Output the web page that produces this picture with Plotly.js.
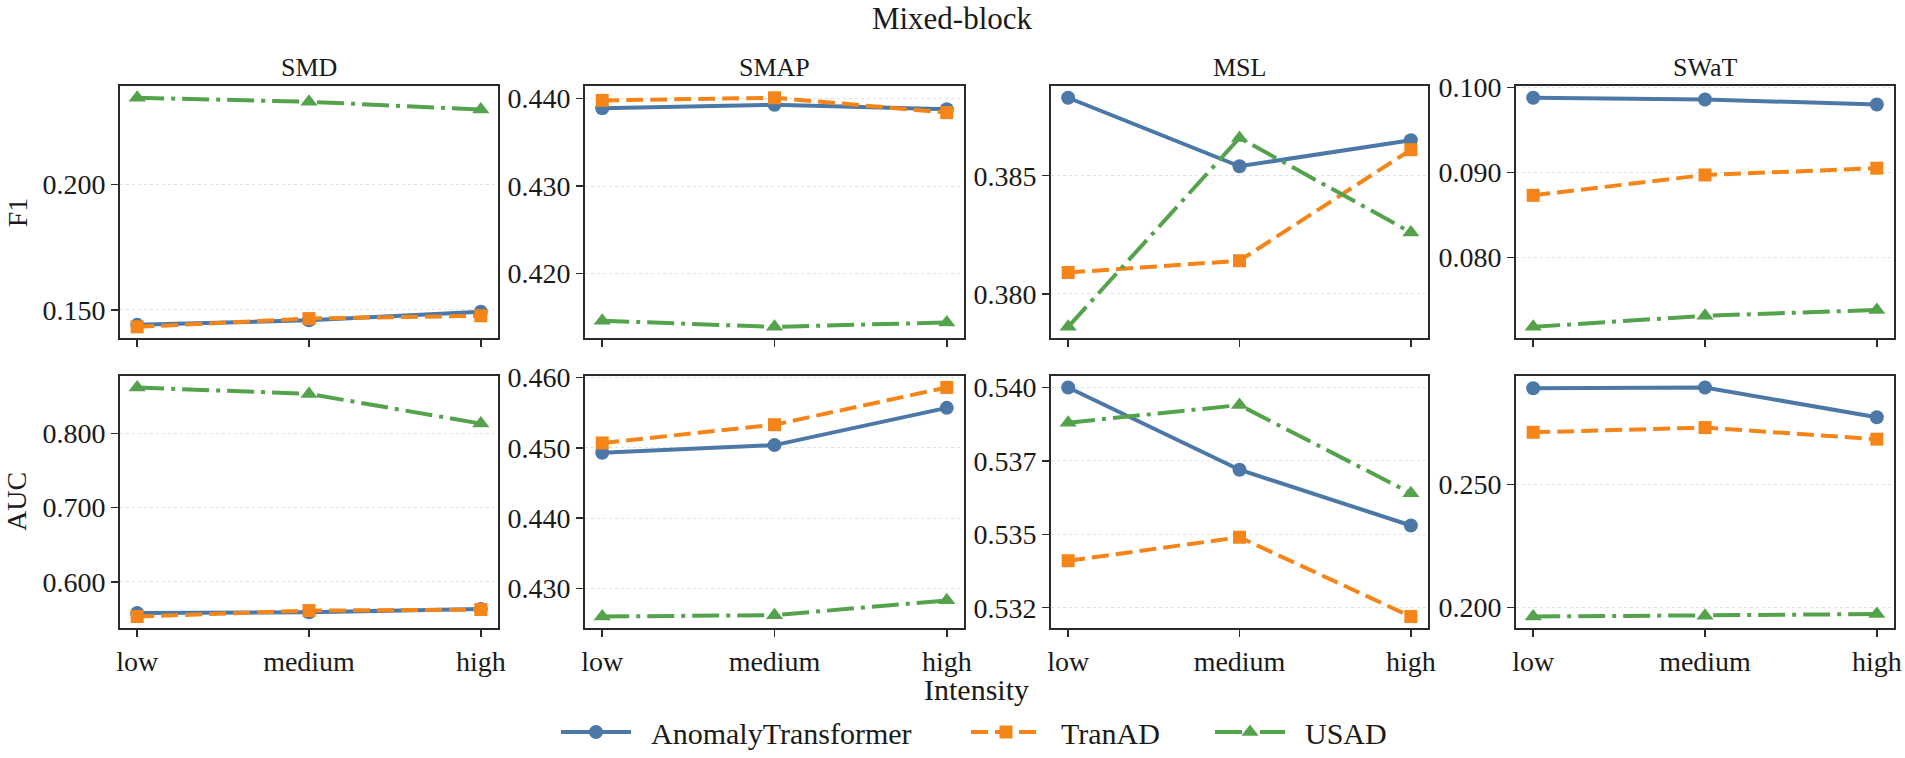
<!DOCTYPE html>
<html>
<head>
<meta charset="utf-8">
<script src="https://cdn.plot.ly/plotly-3.0.1.min.js"></script>
<style>html,body{margin:0;padding:0;background:#fff;}#chart{width:1905px;height:758px;}</style>
</head>
<body>
<div id="chart"></div>
<script>
// ---------- data ----------
const categories = ['low', 'medium', 'high'];
const datasets = ['SMD', 'SMAP', 'MSL', 'SWaT'];
const metrics = ['F1', 'AUC'];
const models = ['AnomalyTransformer', 'TranAD', 'USAD'];

// F1 values per dataset
const f1_SMD_AnomalyTransformer  = [0.1440, 0.1458, 0.1492];
const f1_SMD_TranAD              = [0.1432, 0.1465, 0.1476];
const f1_SMD_USAD                = [0.2345, 0.2329, 0.2298];
const f1_SMAP_AnomalyTransformer = [0.4389, 0.4393, 0.4388];
const f1_SMAP_TranAD             = [0.4398, 0.4401, 0.4384];
const f1_SMAP_USAD               = [0.4146, 0.4139, 0.4144];
const f1_MSL_AnomalyTransformer  = [0.3883, 0.3854, 0.3865];
const f1_MSL_TranAD              = [0.3809, 0.3814, 0.3861];
const f1_MSL_USAD                = [0.3786, 0.3866, 0.3826];
const f1_SWaT_AnomalyTransformer = [0.0988, 0.0986, 0.0980];
const f1_SWaT_TranAD             = [0.0873, 0.0897, 0.0905];
const f1_SWaT_USAD               = [0.0718, 0.0731, 0.0738];

// AUC values per dataset
const auc_SMD_AnomalyTransformer  = [0.5582, 0.5590, 0.5636];
const auc_SMD_TranAD              = [0.5533, 0.5613, 0.5627];
const auc_SMD_USAD                = [0.8620, 0.8533, 0.8133];
const auc_SMAP_AnomalyTransformer = [0.4493, 0.4504, 0.4557];
const auc_SMAP_TranAD             = [0.4507, 0.4533, 0.4586];
const auc_SMAP_USAD               = [0.4260, 0.4262, 0.4283];
const auc_MSL_AnomalyTransformer  = [0.5400, 0.5372, 0.5353];
const auc_MSL_TranAD              = [0.5341, 0.5349, 0.5322];
const auc_MSL_USAD                = [0.5388, 0.5394, 0.5364];
const auc_SWaT_AnomalyTransformer = [0.2891, 0.2894, 0.2773];
const auc_SWaT_TranAD             = [0.2712, 0.2731, 0.2684];
const auc_SWaT_USAD               = [0.1964, 0.1967, 0.1974];

// tick labels
const tickVals_F1  = {SMD:[0.15,0.2], SMAP:[0.42,0.43,0.44], MSL:[0.38,0.385], SWaT:[0.08,0.09,0.1]};
const tickText_F1  = {SMD:['0.150','0.200'], SMAP:['0.420','0.430','0.440'], MSL:['0.380','0.385'], SWaT:['0.080','0.090','0.100']};
const tickVals_AUC = {SMD:[0.6,0.7,0.8], SMAP:[0.43,0.44,0.45,0.46], MSL:[0.5325,0.535,0.5375,0.54], SWaT:[0.2,0.25]};
const tickText_AUC = {SMD:['0.600','0.700','0.800'], SMAP:['0.430','0.440','0.450','0.460'], MSL:['0.532','0.535','0.537','0.540'], SWaT:['0.200','0.250']};

// ---------- assembly ----------
const values = {
  F1: {
    SMD:  [f1_SMD_AnomalyTransformer,  f1_SMD_TranAD,  f1_SMD_USAD],
    SMAP: [f1_SMAP_AnomalyTransformer, f1_SMAP_TranAD, f1_SMAP_USAD],
    MSL:  [f1_MSL_AnomalyTransformer,  f1_MSL_TranAD,  f1_MSL_USAD],
    SWaT: [f1_SWaT_AnomalyTransformer, f1_SWaT_TranAD, f1_SWaT_USAD]
  },
  AUC: {
    SMD:  [auc_SMD_AnomalyTransformer,  auc_SMD_TranAD,  auc_SMD_USAD],
    SMAP: [auc_SMAP_AnomalyTransformer, auc_SMAP_TranAD, auc_SMAP_USAD],
    MSL:  [auc_MSL_AnomalyTransformer,  auc_MSL_TranAD,  auc_MSL_USAD],
    SWaT: [auc_SWaT_AnomalyTransformer, auc_SWaT_TranAD, auc_SWaT_USAD]
  }
};
const ticks = {F1: [tickVals_F1, tickText_F1], AUC: [tickVals_AUC, tickText_AUC]};

const W = 1905, H = 758;
const FONT = '"Liberation Serif", "Times New Roman", Times, serif';
const TXT = '#1a1a1a';
const colors = ['#4c78a8', '#f58518', '#54a24b'];
const symbols = ['circle', 'square', 'triangle-up'];
const dashes = ['solid', '17px,7px', '27px,7px,4px,7px'];
const msizes = [14, 13, 15];
const legendIds = ['legend', 'legend2', 'legend3'];
const legendSymbolStart = [566, 976, 1220];

const colPx = [[120, 498], [585, 964], [1051, 1428], [1516, 1894]];
const rowPx = [[87, 341], [379, 633]];

const traces = [];
const layout = {
  width: W, height: H,
  margin: {l: 0, r: 0, t: 0, b: 0},
  paper_bgcolor: '#ffffff', plot_bgcolor: '#ffffff',
  font: {family: FONT, color: TXT, size: 28},
  showlegend: true,
  annotations: [],
  shapes: []
};
legendIds.forEach((id, k) => {
  layout[id] = {
    orientation: 'h', x: (legendSymbolStart[k] - 10) / W, xanchor: 'left',
    y: 1 - 738 / H, yanchor: 'middle',
    font: {family: FONT, size: 30, color: TXT}, itemwidth: 70,
    bgcolor: 'rgba(0,0,0,0)', borderwidth: 0
  };
});

function pad5(arrs) {
  let mn = Infinity, mx = -Infinity;
  arrs.forEach(a => a.forEach(v => { mn = Math.min(mn, v); mx = Math.max(mx, v); }));
  const r = mx - mn;
  return [mn - 0.05 * r, mx + 0.05 * r];
}

metrics.forEach((m, r) => {
  datasets.forEach((d, c) => {
    const idx = r * 4 + c + 1;
    const xa = 'x' + (idx === 1 ? '' : idx);
    const ya = 'y' + (idx === 1 ? '' : idx);
    const series = values[m][d];
    series.forEach((vals, k) => {
      traces.push({
        type: 'scatter', mode: 'lines+markers',
        x: categories, y: vals, xaxis: xa, yaxis: ya,
        name: '\u00a0\u00a0' + models[k], legendgroup: models[k], legend: legendIds[k],
        showlegend: idx === 1,
        line: {color: colors[k], width: 4, dash: dashes[k]},
        marker: {color: colors[k], symbol: symbols[k], size: msizes[k]},
        cliponaxis: false, hoverinfo: 'x+y+name'
      });
    });
    const xkey = 'xaxis' + (idx === 1 ? '' : idx);
    const ykey = 'yaxis' + (idx === 1 ? '' : idx);
    layout[xkey] = {
      domain: [colPx[c][0] / W, colPx[c][1] / W],
      anchor: ya, type: 'category', categoryorder: 'array', categoryarray: categories,
      range: [-0.1, 2.1], showgrid: false, zeroline: false,
      showline: true, mirror: true, linecolor: '#2b2b2b', linewidth: 2,
      ticks: 'outside', ticklen: 7, tickwidth: 1.5, tickcolor: '#2b2b2b',
      showticklabels: r === 1, tickfont: {family: FONT, size: 28, color: TXT}
    };
    layout[ykey] = {
      domain: [1 - rowPx[r][1] / H, 1 - rowPx[r][0] / H],
      anchor: xa, range: pad5(series),
      tickmode: 'array', tickvals: ticks[m][0][d], ticktext: ticks[m][1][d],
      showgrid: true, gridcolor: '#e2e2e2', gridwidth: 1, griddash: 'dot',
      zeroline: false, showline: true, mirror: true, linecolor: '#2b2b2b', linewidth: 2,
      ticks: 'outside', ticklen: 7, tickwidth: 1.5, tickcolor: '#2b2b2b',
      tickfont: {family: FONT, size: 28, color: TXT}
    };
  });
});

// subplot titles
datasets.forEach((d, c) => {
  layout.annotations.push({
    text: d, xref: 'paper', yref: 'paper',
    x: (colPx[c][0] + colPx[c][1]) / 2 / W, y: 1 - 68 / H,
    xanchor: 'center', yanchor: 'middle', showarrow: false,
    font: {family: FONT, size: 26, color: TXT}
  });
});
// row labels
metrics.forEach((m, r) => {
  layout.annotations.push({
    text: m, xref: 'paper', yref: 'paper',
    x: 17 / W, y: 1 - (rowPx[r][0] + rowPx[r][1]) / 2 / H,
    xanchor: 'center', yanchor: 'middle', textangle: -90, showarrow: false,
    borderpad: 0, font: {family: FONT, size: 28, color: TXT}
  });
});
// x label
layout.annotations.push({
  text: 'Intensity', xref: 'paper', yref: 'paper', x: 976 / W, y: 1 - 695 / H,
  xanchor: 'center', yanchor: 'middle', showarrow: false,
  font: {family: FONT, size: 30, color: TXT}
});
// suptitle
layout.title = {
  text: 'Mixed-block', x: 952 / W, xanchor: 'center', y: 1 - 18 / H, yanchor: 'middle',
  xref: 'paper', yref: 'paper', font: {family: FONT, size: 31, color: TXT}
};

Plotly.newPlot('chart', traces, layout, {displayModeBar: false, staticPlot: true});
</script>
</body>
</html>
